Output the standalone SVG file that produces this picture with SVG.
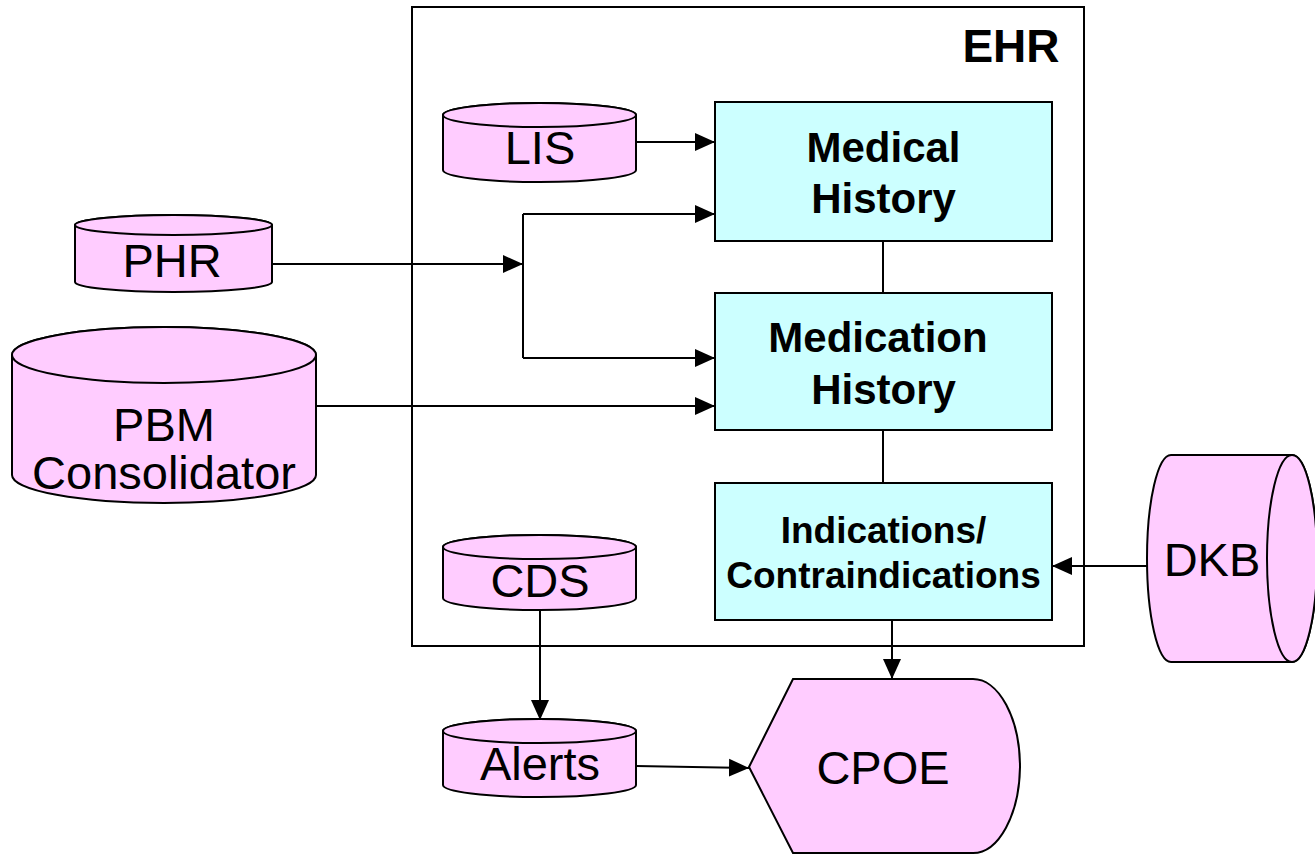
<svg xmlns="http://www.w3.org/2000/svg" width="1315" height="855" viewBox="0 0 1315 855">
<defs>
<style>
.pink{fill:#FFCCFF;stroke:#000;stroke-width:2}
.cyan{fill:#CCFFFF;stroke:#000;stroke-width:2}
.lbl{font-family:"Liberation Sans",Arial,sans-serif;font-size:47px;fill:#000;text-anchor:middle}
.bold{font-family:"Liberation Sans",Arial,sans-serif;font-weight:bold;font-size:42px;fill:#000;text-anchor:middle}
.conn{fill:none;stroke:#000;stroke-width:2}
</style>
<marker id="arr" viewBox="0 0 20 20" refX="20" refY="10" markerWidth="20" markerHeight="20" markerUnits="userSpaceOnUse" orient="auto">
<path d="M0,1 L20,10 L0,19 Z" fill="#000"/>
</marker>
</defs>
<rect width="1315" height="855" fill="#fff"/>

<g id="ehr">
<rect x="412" y="7" width="672" height="639" fill="none" stroke="#000" stroke-width="2"/>
<text x="1011" y="62" class="bold" style="font-size:46px">EHR</text>
</g>

<g id="connectors">
<path class="conn" d="M636,142 L715,142" marker-end="url(#arr)"/>
<path class="conn" d="M272,264 L523,264" marker-end="url(#arr)"/>
<path class="conn" d="M523,214 L523,358"/>
<path class="conn" d="M523,214 L715,214" marker-end="url(#arr)"/>
<path class="conn" d="M523,358 L715,358" marker-end="url(#arr)"/>
<path class="conn" d="M316,406 L715,406" marker-end="url(#arr)"/>
<path class="conn" d="M883,241 L883,293"/>
<path class="conn" d="M883,430 L883,483"/>
<path class="conn" d="M1147,566 L1052,566" marker-end="url(#arr)"/>
<path class="conn" d="M892,620 L892,679" marker-end="url(#arr)"/>
<path class="conn" d="M540,610 L540,720" marker-end="url(#arr)"/>
<path class="conn" d="M636,766 L749,768" marker-end="url(#arr)"/>
</g>

<g id="lis">
<path class="pink" d="M443,115 L443,170 A96.5,12 0 0 0 636,170 L636,115 A96.5,12 0 0 0 443,115 Z"/>
<ellipse class="pink" cx="539.5" cy="115" rx="96.5" ry="12"/>
<text x="540" y="164" class="lbl">LIS</text>
</g>

<g id="phr">
<path class="pink" d="M75,225 L75,282 A98.5,10 0 0 0 272,282 L272,225 A98.5,10 0 0 0 75,225 Z"/>
<ellipse class="pink" cx="173.5" cy="225" rx="98.5" ry="10"/>
<text x="172" y="277" class="lbl">PHR</text>
</g>

<g id="pbm">
<path class="pink" d="M12,355 L12,475 A152,28 0 0 0 316,475 L316,355 A152,28 0 0 0 12,355 Z"/>
<ellipse class="pink" cx="164" cy="355" rx="152" ry="28"/>
<text x="164" y="441" class="lbl">PBM</text>
<text x="164" y="489" class="lbl">Consolidator</text>
</g>

<g id="cds">
<path class="pink" d="M443,547 L443,598 A96.5,12 0 0 0 636,598 L636,547 A96.5,12 0 0 0 443,547 Z"/>
<ellipse class="pink" cx="539.5" cy="547" rx="96.5" ry="12"/>
<text x="540" y="597" class="lbl">CDS</text>
</g>

<g id="alerts">
<path class="pink" d="M443,731 L443,785 A96.5,12 0 0 0 636,785 L636,731 A96.5,12 0 0 0 443,731 Z"/>
<ellipse class="pink" cx="539.5" cy="731" rx="96.5" ry="12"/>
<text x="540" y="780" class="lbl">Alerts</text>
</g>

<g id="medical-history">
<rect class="cyan" x="715" y="102" width="337" height="139"/>
<text x="883.5" y="162" class="bold">Medical</text>
<text x="883.5" y="213" class="bold">History</text>
</g>

<g id="medication-history">
<rect class="cyan" x="715" y="293" width="337" height="137"/>
<text x="878" y="352" class="bold">Medication</text>
<text x="883.5" y="404" class="bold">History</text>
</g>

<g id="indications">
<rect class="cyan" x="715" y="483" width="337" height="137"/>
<text x="883.5" y="543" class="bold" style="font-size:37px">Indications/</text>
<text x="883.5" y="588" class="bold" style="font-size:37px">Contraindications</text>
</g>

<g id="dkb">
<path class="pink" d="M1171,455 L1292,455 A25,103.5 0 0 1 1292,662 L1171,662 A24,103.5 0 0 1 1171,455 Z"/>
<ellipse class="pink" cx="1292" cy="558.5" rx="25" ry="103.5"/>
<text x="1212" y="576" class="lbl">DKB</text>
</g>

<g id="cpoe">
<path class="pink" d="M749,767 L793,679 L973,679 A47,88 0 0 1 1020,767 A47,88 0 0 1 973,853 L793,853 Z"/>
<text x="883" y="784" class="lbl">CPOE</text>
</g>
</svg>
